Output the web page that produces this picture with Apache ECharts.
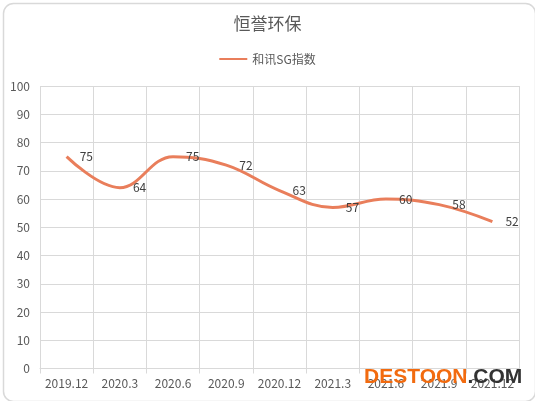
<!DOCTYPE html>
<html><head><meta charset="utf-8">
<script src="https://cdn.jsdelivr.net/npm/echarts@6/dist/echarts.min.js"></script>
<style>html,body{margin:0;padding:0;background:#fff}#c{width:535px;height:401px}</style>
</head><body><div id="c"></div>
<script>
var categories = ['2019.12','2020.3','2020.6','2020.9','2020.12','2021.3','2021.6','2021.9','2021.12'];
var sgValues = [75, 64, 75, 72, 63, 57, 60, 58, 52];
var yTicks = {min: 0, max: 100, interval: 10};

var chart = echarts.init(document.getElementById('c'));
var font = '"Microsoft YaHei","Noto Sans CJK SC",sans-serif';
chart.setOption({
  animation: false,
  textStyle: {fontFamily: font},
  title: {text: '恒誉环保', left: 'center', top: 10, textStyle: {fontSize: 17, fontWeight: 'normal', color: '#595959', fontFamily: font}},
  legend: {top: 48, left: 'center', itemWidth: 28, itemHeight: 10, itemGap: 6,
    textStyle: {fontSize: 12, color: '#595959', fontFamily: font},
    data: [{name: '和讯SG指数', icon: 'path://M0,4 L28,4 L28,6 L0,6 Z'}]},
  grid: {left: 40, right: 16, top: 86, bottom: 32.5},
  xAxis: {type: 'category', data: categories, boundaryGap: true,
    axisLine: {lineStyle: {color: '#D9D9D9'}},
    axisTick: {show: true, length: 5, lineStyle: {color: '#D9D9D9'}},
    axisLabel: {color: '#595959', fontSize: 12, margin: 9, interval: 0},
    splitLine: {show: true, lineStyle: {color: '#D9D9D9'}}},
  yAxis: {type: 'value', min: yTicks.min, max: yTicks.max, interval: yTicks.interval,
    axisLine: {show: false}, axisTick: {show: false},
    axisLabel: {color: '#595959', fontSize: 12, margin: 10},
    splitLine: {lineStyle: {color: '#D9D9D9'}}},
  series: [{name: '和讯SG指数', type: 'line', smooth: 0.4, data: sgValues,
    symbol: 'circle', symbolSize: 0.1, showSymbol: true, itemStyle: {color: '#E97E5B'},
    lineStyle: {color: '#E97E5B', width: 3},
    label: {show: true, position: 'right', distance: 13, color: '#404040', fontSize: 12}}],
  graphic: [
    {type: 'rect', left: 1, top: 1, shape: {width: 532, height: 398, r: 10}, style: {fill: 'none', stroke: '#D9D9D9', lineWidth: 1.5}, silent: true},
    {type: 'text', left: 364, top: 367, z: 100, style: {
      text: '{a|DESTOON}{b|.COM}',
      rich: {a: {fontSize: 21, fontWeight: 'bold', fill: '#F26B0F', fontFamily: 'Arial,"Liberation Sans",sans-serif'},
             b: {fontSize: 21, fontWeight: 'bold', fill: '#333333', fontFamily: 'Arial,"Liberation Sans",sans-serif'}}}}
  ]
});
</script></body></html>
